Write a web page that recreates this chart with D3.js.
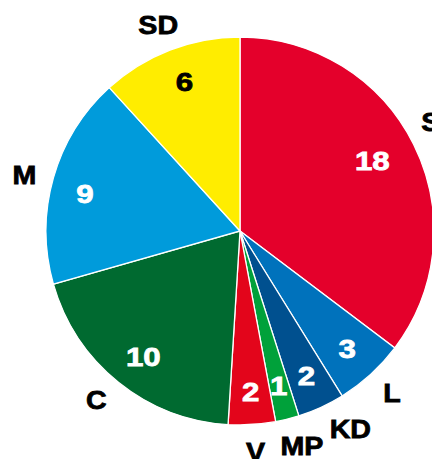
<!DOCTYPE html>
<html><head><meta charset="utf-8">
<script src="https://cdn.jsdelivr.net/npm/d3@7"></script>
<style>body{margin:0;background:#fff}svg{display:block}</style>
</head><body>
<script>
const parties = ["S","L","KD","MP","V","C","M","SD"];
const seats = [18,3,2,1,2,10,9,6];
const colors = ["#e4002b","#0072bc","#00508f","#00a13a","#e3051b","#006a30","#009bdb","#ffed00"];
const valueColors = ["#fff","#fff","#fff","#fff","#fff","#fff","#fff","#000"];

const W=432,H=459, cx=240, cy=231, R=194;
const svg=d3.select("body").append("svg").attr("width",W).attr("height",H);
const g=svg.append("g").attr("transform",`translate(${cx},${cy})`);
const data=parties.map((p,i)=>({p,v:seats[i],c:colors[i],t:valueColors[i]}));
const pie=d3.pie().value(d=>d.v).sort(null);
const arcs=pie(data);
const arc=d3.arc().innerRadius(0).outerRadius(R);
g.selectAll("path").data(arcs).join("path")
 .attr("d",arc).attr("fill",d=>d.data.c).attr("stroke","#fff").attr("stroke-width",1.3);
const inArc=d3.arc().innerRadius(159).outerRadius(159);
const outArc=d3.arc().innerRadius(221).outerRadius(221);
const font="'Liberation Sans', Arial, sans-serif";
const inNudge={S:[-10,0],M:[-2,6],C:[3,2],SD:[2,-1],V:[1,2]};
const outNudge={S:[-7,-11],L:[3,-2],KD:[18,-3],MP:[8,0],V:[2,0],C:[-5,-4],M:[-3,4],SD:[-2,0]};
function pos(a,d,n){const c=a.centroid(d);const o=n[d.data.p]||[0,0];return [c[0]+o[0],c[1]+o[1]];}
g.selectAll("text.v").data(arcs).join("text").attr("class","v")
 .attr("transform",d=>`translate(${pos(inArc,d,inNudge)}) scale(1.18,1)`)
 .attr("text-anchor","middle").attr("dy","0.36em")
 .attr("font-family",font).attr("font-weight","bold").attr("font-size",26.5)
 .attr("fill",d=>d.data.t).attr("stroke",d=>d.data.t).attr("stroke-width",0.8)
 .text(d=>d.data.v);
g.selectAll("text.l").data(arcs).join("text").attr("class","l")
 .attr("transform",d=>`translate(${pos(outArc,d,outNudge)}) scale(1.08,1)`)
 .attr("text-anchor","middle").attr("dy","0.36em")
 .attr("font-family",font).attr("font-weight","bold").attr("font-size",26.5)
 .attr("fill","#000").attr("stroke","#000").attr("stroke-width",0.8)
 .text(d=>d.data.p);
</script>
</body></html>
